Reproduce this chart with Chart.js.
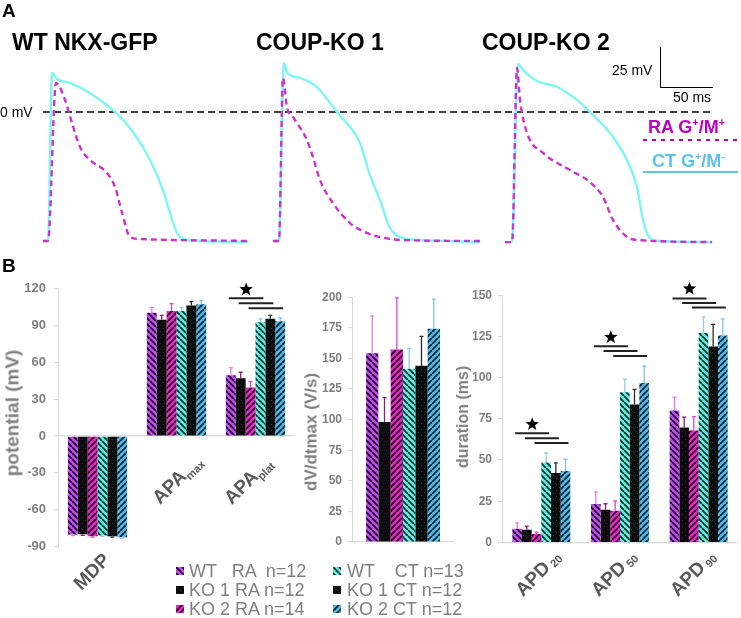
<!DOCTYPE html>
<html><head><meta charset="utf-8">
<script src="https://cdn.jsdelivr.net/npm/chart.js@4"></script>
<style>
body{margin:0;background:#fff;width:741px;height:618px;position:relative;overflow:hidden;font-family:"Liberation Sans",Arial,sans-serif}
.t{position:absolute;white-space:pre;line-height:1}
.box{position:absolute}
.yt{position:absolute;white-space:pre;line-height:1;font-weight:bold;color:#7f7f7f;transform:translate(-50%,-50%) rotate(-90deg)}
sup{font-size:60%;line-height:0;vertical-align:super}
</style></head>
<body>
<!-- Panel A -->
<div class="box" style="left:0;top:0;width:741px;height:250px"><canvas id="cA" width="741" height="250"></canvas></div>
<div class="t" style="left:2px;top:1px;font-size:19px;font-weight:bold">A</div>
<div class="t" style="left:12px;top:31px;font-size:23px;font-weight:bold">WT NKX-GFP</div>
<div class="t" style="left:256px;top:31px;font-size:23px;font-weight:bold">COUP-KO 1</div>
<div class="t" style="left:482px;top:31px;font-size:23px;font-weight:bold">COUP-KO 2</div>
<div class="t" style="left:0px;top:105px;font-size:14px">0 mV</div>
<div class="t" style="left:612px;top:63px;font-size:14px">25 mV</div>
<div class="t" style="left:673px;top:90px;font-size:14px">50 ms</div>
<div class="box" style="left:660px;top:47px;width:52px;height:40px;border-left:1px solid #000;border-bottom:1px solid #000"></div>
<div class="t" style="left:648px;top:118px;font-size:18px;font-weight:bold;color:#c000c0">RA G<sup>+</sup>/M<sup>+</sup></div>
<div class="box" style="left:643px;top:139px;width:95px;height:2px;background:repeating-linear-gradient(90deg,#c000c0 0 4px,transparent 4px 9px)"></div>
<div class="t" style="left:652px;top:152px;font-size:18px;font-weight:bold;color:#5bc3e8">CT G<sup>+</sup>/M<sup>-</sup></div>
<div class="box" style="left:643px;top:171px;width:95px;height:2px;background:#5bc3e8"></div>

<!-- Panel B -->
<div class="t" style="left:2px;top:256px;font-size:19px;font-weight:bold">B</div>
<div class="box" style="left:0;top:273px;width:300px;height:327px"><canvas id="c1" width="300" height="327"></canvas></div>
<div class="box" style="left:300px;top:284px;width:160px;height:316px"><canvas id="c2" width="160" height="316"></canvas></div>
<div class="box" style="left:450px;top:282px;width:291px;height:318px"><canvas id="c3" width="291" height="318"></canvas></div>
<div class="yt" style="left:12px;top:413px;font-size:19px">potential (mV)</div>
<div class="yt" style="left:311px;top:432px;font-size:17px">dV/dtmax (V/s)</div>
<div class="yt" style="left:463px;top:417px;font-size:16px">duration (ms)</div>
<div id="legend"></div>

<script>
// ---------- Panel A data: [time ms from cell start, membrane potential mV] ----------
const cellTitles = ['WT NKX-GFP', 'COUP-KO 1', 'COUP-KO 2'];
const wtRA = [[0,-80.6],[4.9,-80.6],[12.7,18.1],[21.6,7.5],[28.4,-6.9],[36.3,-21.9],[46.1,-30],[62.7,-38.1],[70.6,-46.9],[77.5,-63.1],[85.3,-78.1],[95.1,-79.4],[201,-80.6]];
const wtCT = [[0,-80.6],[4.9,-80.6],[8.8,24.4],[13.7,20.6],[26.5,18.1],[39.2,14.4],[55.9,7.5],[70.6,0],[88.2,-12.5],[104.9,-30],[117.6,-48.8],[124.5,-63.1],[131.4,-75.6],[141.2,-80],[201,-81.3]];
const ko1RA = [[0,-80.6],[5.9,-80.6],[9.8,21.3],[13.7,3.1],[19.6,-3.1],[33.3,-17.5],[39.2,-28.1],[46.1,-42.5],[58.8,-56.9],[75.5,-69.4],[92.2,-75.6],[104.9,-78.1],[124.5,-80],[203,-80.6]];
const ko1CT = [[0,-80.6],[5.9,-80.6],[10.8,30.6],[13.7,25],[26.5,21.3],[43.1,15.6],[62.7,0],[85.3,-19.4],[95.1,-39.4],[104.9,-55],[114.7,-72.5],[127.5,-78.8],[144,-80],[203,-81.3]];
const ko2RA = [[0,-81.3],[6.9,-81.3],[11.8,27.5],[14.7,7.5],[21.6,-13.1],[37.3,-25.6],[63.7,-36.3],[83.3,-43.8],[96.1,-53.1],[105.9,-67.5],[119.6,-78.1],[129.4,-80],[203,-81.3]];
const ko2CT = [[0,-81.3],[6.9,-81.3],[12.7,30],[17.6,26.3],[31.4,19.4],[51,15.6],[70.6,7.5],[83.3,0],[102.9,-13.1],[119.6,-30],[129.4,-46.9],[135.3,-67.5],[142.2,-78.8],[152,-80.6],[203,-81.3]];
const zeroLineMv = 0;

// ---------- Panel B data ----------
const seriesNames = ['WT   RA  n=12','KO 1 RA n=12','KO 2 RA n=14','WT    CT n=13','KO 1 CT n=12','KO 2 CT n=12'];
const potCats = ['MDP','APA','APA'];
const potSubs = ['','max','plat'];
const potMean = [
  [-80.3,-80.1,-81.6,-81.0,-81.6,-82.4],
  [100.5,94.7,101.9,101.9,106.4,107.5],
  [49.6,47.2,39.5,92.8,95.5,93.6]
];
const potErr = [
  [0.8,0.8,0.8,0.8,0.8,0.8],
  [4.3,3.7,6.1,2.9,3.2,2.9],
  [6.1,4.8,4.8,2.7,2.9,2.7]
];
const potTicks = [-90,-60,-30,0,30,60,90,120];
const dvCats = [''];
const dvSubs = [''];
const dvMean = [[154.3,98.0,157.3,141.6,144.0,174.2]];
const dvErr = [[30.5,20.0,42.1,16.4,24.0,24.2]];
const dvTicks = [0,25,50,75,100,125,150,175,200];
const apdCats = ['APD','APD','APD'];
const apdSubs = ['20','50','90'];
const apdMean = [
  [8.3,7.7,5.1,48.5,42.1,43.3],
  [23.3,19.9,19.3,91.1,83.7,96.7],
  [80.1,69.7,67.9,127.1,118.9,125.5]
];
const apdErr = [
  [3.6,2.2,1.2,5.8,6.2,7.2],
  [7.4,3.6,6.0,8.0,9.2,10.2],
  [8.0,6.4,8.4,9.6,13.4,10.2]
];
const apdTicks = [0,25,50,75,100,125,150];
// significance: category index, star level, bracket levels (data units)
const sigPairs = [[0,3],[1,4],[2,5]];
const potSig = [{cat:2, star:119.4, lines:[112.2,108.2,104.2]}];
const apdSig = [
  {cat:0, star:71.7, lines:[66.3,63.3,60.3]},
  {cat:1, star:124.5, lines:[119.1,116.1,113.1]},
  {cat:2, star:153.9, lines:[148,145.3,142.5]}
];

// ---------- styling / layout ----------
const FONT = '"Liberation Sans", Arial, sans-serif';
Chart.defaults.font.family = FONT;
const cellOffsetsMs = [42.2, 267.6, 495.1];
const pxPerMs = 1.02;

function pat(base, stripe, dir){
  const c = document.createElement('canvas'); c.width = c.height = 6;
  const g = c.getContext('2d');
  g.fillStyle = base; g.fillRect(0,0,6,6);
  if (dir === '\\' || dir === '/'){
    g.strokeStyle = stripe; g.lineWidth = 1.9; g.beginPath();
    for (const k of [-6,0,6]){
      if (dir === '\\'){ g.moveTo(k,0); g.lineTo(k+6,6); }
      else { g.moveTo(k,6); g.lineTo(k+6,0); }
    }
    g.stroke();
  } else {
    g.fillStyle = stripe; g.fillRect(1,1,1,1); g.fillRect(4,4,1,1);
  }
  return g.createPattern(c,'repeat');
}
const fills = [
  pat('#c04ff0','#250a2c','\\'),
  pat('#0c0c0c','#3a2238','.'),
  pat('#e52ac8','#2c0626','/'),
  pat('#66eee0','#0e3a36','\\'),
  pat('#0c0c0c','#1f4444','.'),
  pat('#5ab8e8','#0b2a3a','/')
];
const errColors = ['#e27ee6','#8a2070','#e044d6','#8ecbf2','#2a2a2a','#7fc3ee'];

// ---------- Panel A chart ----------
function shift(arr, off){ return arr.map(p => ({x: p[0] + off, y: p[1]})); }
const traceSets = [[wtRA, wtCT],[ko1RA, ko1CT],[ko2RA, ko2CT]];
const aDatasets = [];
traceSets.forEach((pair, i) => {
  aDatasets.push({data: shift(pair[1], cellOffsetsMs[i]), borderColor:'#7df5f5', borderWidth:2.4, showLine:true, pointRadius:0, cubicInterpolationMode:'monotone', order:2});
  aDatasets.push({data: shift(pair[0], cellOffsetsMs[i]), borderColor:'#cc33cc', borderWidth:2.4, borderDash:[6,4], showLine:true, pointRadius:0, cubicInterpolationMode:'monotone', order:1});
});
aDatasets.push({data:[{x:cellOffsetsMs[0], y:zeroLineMv},{x:698, y:zeroLineMv}], borderColor:'#000', borderWidth:1.4, borderDash:[7,4], showLine:true, pointRadius:0, order:3});

new Chart(document.getElementById('cA'), {
  type:'scatter',
  data:{datasets:aDatasets},
  options:{
    responsive:false, animation:false, events:[],
    layout:{padding:0},
    plugins:{legend:{display:false}, tooltip:{enabled:false}},
    scales:{
      x:{type:'linear', display:false, min:0, max:741/pxPerMs},
      y:{type:'linear', display:false, min:-86.25, max:70}
    }
  }
});

// ---------- bar chart helper ----------
function star(ctx, cx, cy, R, r){
  ctx.beginPath();
  for (let i=0;i<10;i++){
    const a = -Math.PI/2 + i*Math.PI/5;
    const rr = i%2===0 ? R : r;
    ctx.lineTo(cx + rr*Math.cos(a), cy + rr*Math.sin(a));
  }
  ctx.closePath(); ctx.fillStyle='#000'; ctx.fill();
}
const barExtras = {
  id:'barExtras',
  afterDatasetsDraw(chart, args, o){
    const ctx = chart.ctx, ys = chart.scales.y, xs = chart.scales.x;
    ctx.save();
    // error bars
    chart.data.datasets.forEach((ds, di) => {
      const meta = chart.getDatasetMeta(di);
      meta.data.forEach((bar, ci) => {
        const v = ds.data[ci], e = o.err[ci][di];
        const yEnd = ys.getPixelForValue(v + Math.sign(v)*e);
        ctx.strokeStyle = errColors[di]; ctx.lineWidth = 1.3;
        ctx.beginPath();
        ctx.moveTo(bar.x, bar.y); ctx.lineTo(bar.x, yEnd);
        ctx.moveTo(bar.x-2, yEnd); ctx.lineTo(bar.x+2, yEnd);
        ctx.stroke();
      });
    });
    // significance brackets
    (o.sig || []).forEach(s => {
      const bars = chart.data.datasets.map((d, i) => chart.getDatasetMeta(i).data[s.cat]);
      let mid = 0;
      sigPairs.forEach((p, k) => {
        const x1 = bars[p[0]].x - 2, x2 = bars[p[1]].x + 3;
        const y = ys.getPixelForValue(s.lines[k]);
        if (k === 0) mid = (x1 + x2)/2;
        ctx.strokeStyle = '#222'; ctx.lineWidth = 2;
        ctx.beginPath(); ctx.moveTo(x1, y); ctx.lineTo(x2, y); ctx.stroke();
      });
      star(ctx, mid, ys.getPixelForValue(s.star), 7, 3);
    });
    // category labels (rotated, with subscripts)
    const zero = ys.getPixelForValue(0);
    o.cats.forEach((c, i) => {
      if (!c) return;
      const a = o.anchors[i];
      const ax = xs.getPixelForValue(i) + a[0], ay = zero + a[1];
      ctx.save();
      ctx.translate(ax, ay); ctx.rotate(-Math.PI/4);
      ctx.fillStyle = '#595959'; ctx.textAlign = 'right'; ctx.textBaseline = 'alphabetic';
      let w = 0;
      const sub = o.subs[i];
      if (sub){
        ctx.font = 'bold ' + o.subSize + 'px ' + FONT;
        ctx.fillText(sub, 0, o.subDy);
        w = ctx.measureText(sub).width + o.subGap;
      }
      ctx.font = 'bold ' + o.mainSize + 'px ' + FONT;
      ctx.fillText(c, -w, 0);
      ctx.restore();
    });
    ctx.restore();
  }
};

function barChart(id, cats, subs, mean, err, ticks, sig, L){
  const datasets = seriesNames.map((n, s) => ({
    label:n, data: cats.map((c, ci) => mean[ci][s]),
    backgroundColor: fills[s], borderWidth:0,
    categoryPercentage: L.catPct, barPercentage: 1
  }));
  return new Chart(document.getElementById(id), {
    type:'bar',
    data:{labels: cats.map((c,i)=>c+subs[i]), datasets},
    options:{
      responsive:false, animation:false, events:[],
      layout:{padding:L.pad},
      plugins:{legend:{display:false}, tooltip:{enabled:false},
        barExtras:{err, sig, cats, subs, anchors:L.anchors, mainSize:L.mainSize, subSize:L.subSize, subDy:L.subDy, subGap:L.subGap}},
      scales:{
        x:{display:false},
        y:{min:ticks[0], max:ticks[ticks.length-1],
           afterBuildTicks: ax => { ax.ticks = ticks.map(v => ({value:v})); },
           afterFit: ax => { ax.width = L.yW; },
           ticks:{color:'#7f7f7f', font:{size:L.tickSize, weight:'bold'}, padding:L.tickPad},
           border:{color:'#d9d9d9', width:1},
           grid:{color: c => (c.tick && c.tick.value === 0) ? '#d9d9d9' : 'rgba(0,0,0,0)', tickColor:'#d9d9d9', tickLength:4, lineWidth:1.2}
        }
      }
    },
    plugins:[barExtras]
  });
}

barChart('c1', potCats, potSubs, potMean, potErr, potTicks, potSig,
  {pad:{top:10,bottom:53.5,left:0,right:5}, yW:58, catPct:0.75, tickSize:13, tickPad:8,
   anchors:[[13.5,125],[26.5,26],[17.5,28]], mainSize:19, subSize:11, subDy:4, subGap:0});
barChart('c2', dvCats, dvSubs, dvMean, dvErr, dvTicks, [],
  {pad:{top:10,bottom:58,left:0,right:6}, yW:52, catPct:0.725, tickSize:12, tickPad:6,
   anchors:[[0,0]], mainSize:19, subSize:11, subDy:4, subGap:0});
barChart('c3', apdCats, apdSubs, apdMean, apdErr, apdTicks, apdSig,
  {pad:{top:10,bottom:57.5,left:0,right:3}, yW:52, catPct:0.737, tickSize:12, tickPad:6,
   anchors:[[20.7,15.5],[18,15.5],[18.3,15.5]], mainSize:19, subSize:11, subDy:2, subGap:3});

// ---------- legend (HTML text + pattern swatches) ----------
const lg = document.getElementById('legend');
const colX = [[176,189],[333,347]];
const rowTop = [562,581,600];
seriesNames.forEach((n, s) => {
  const col = s < 3 ? 0 : 1, row = s % 3;
  const sw = document.createElement('canvas'); sw.width = 8; sw.height = 8;
  sw.style.cssText = 'position:absolute;left:'+colX[col][0]+'px;top:'+(rowTop[row]+5)+'px';
  const g = sw.getContext('2d'); g.fillStyle = fills[s]; g.fillRect(0,0,8,8);
  lg.appendChild(sw);
  const d = document.createElement('div'); d.className = 't';
  d.style.cssText = 'left:'+colX[col][1]+'px;top:'+rowTop[row]+'px;font-size:18px;color:#7f7f7f';
  d.textContent = n; lg.appendChild(d);
});
</script>
</body></html>
